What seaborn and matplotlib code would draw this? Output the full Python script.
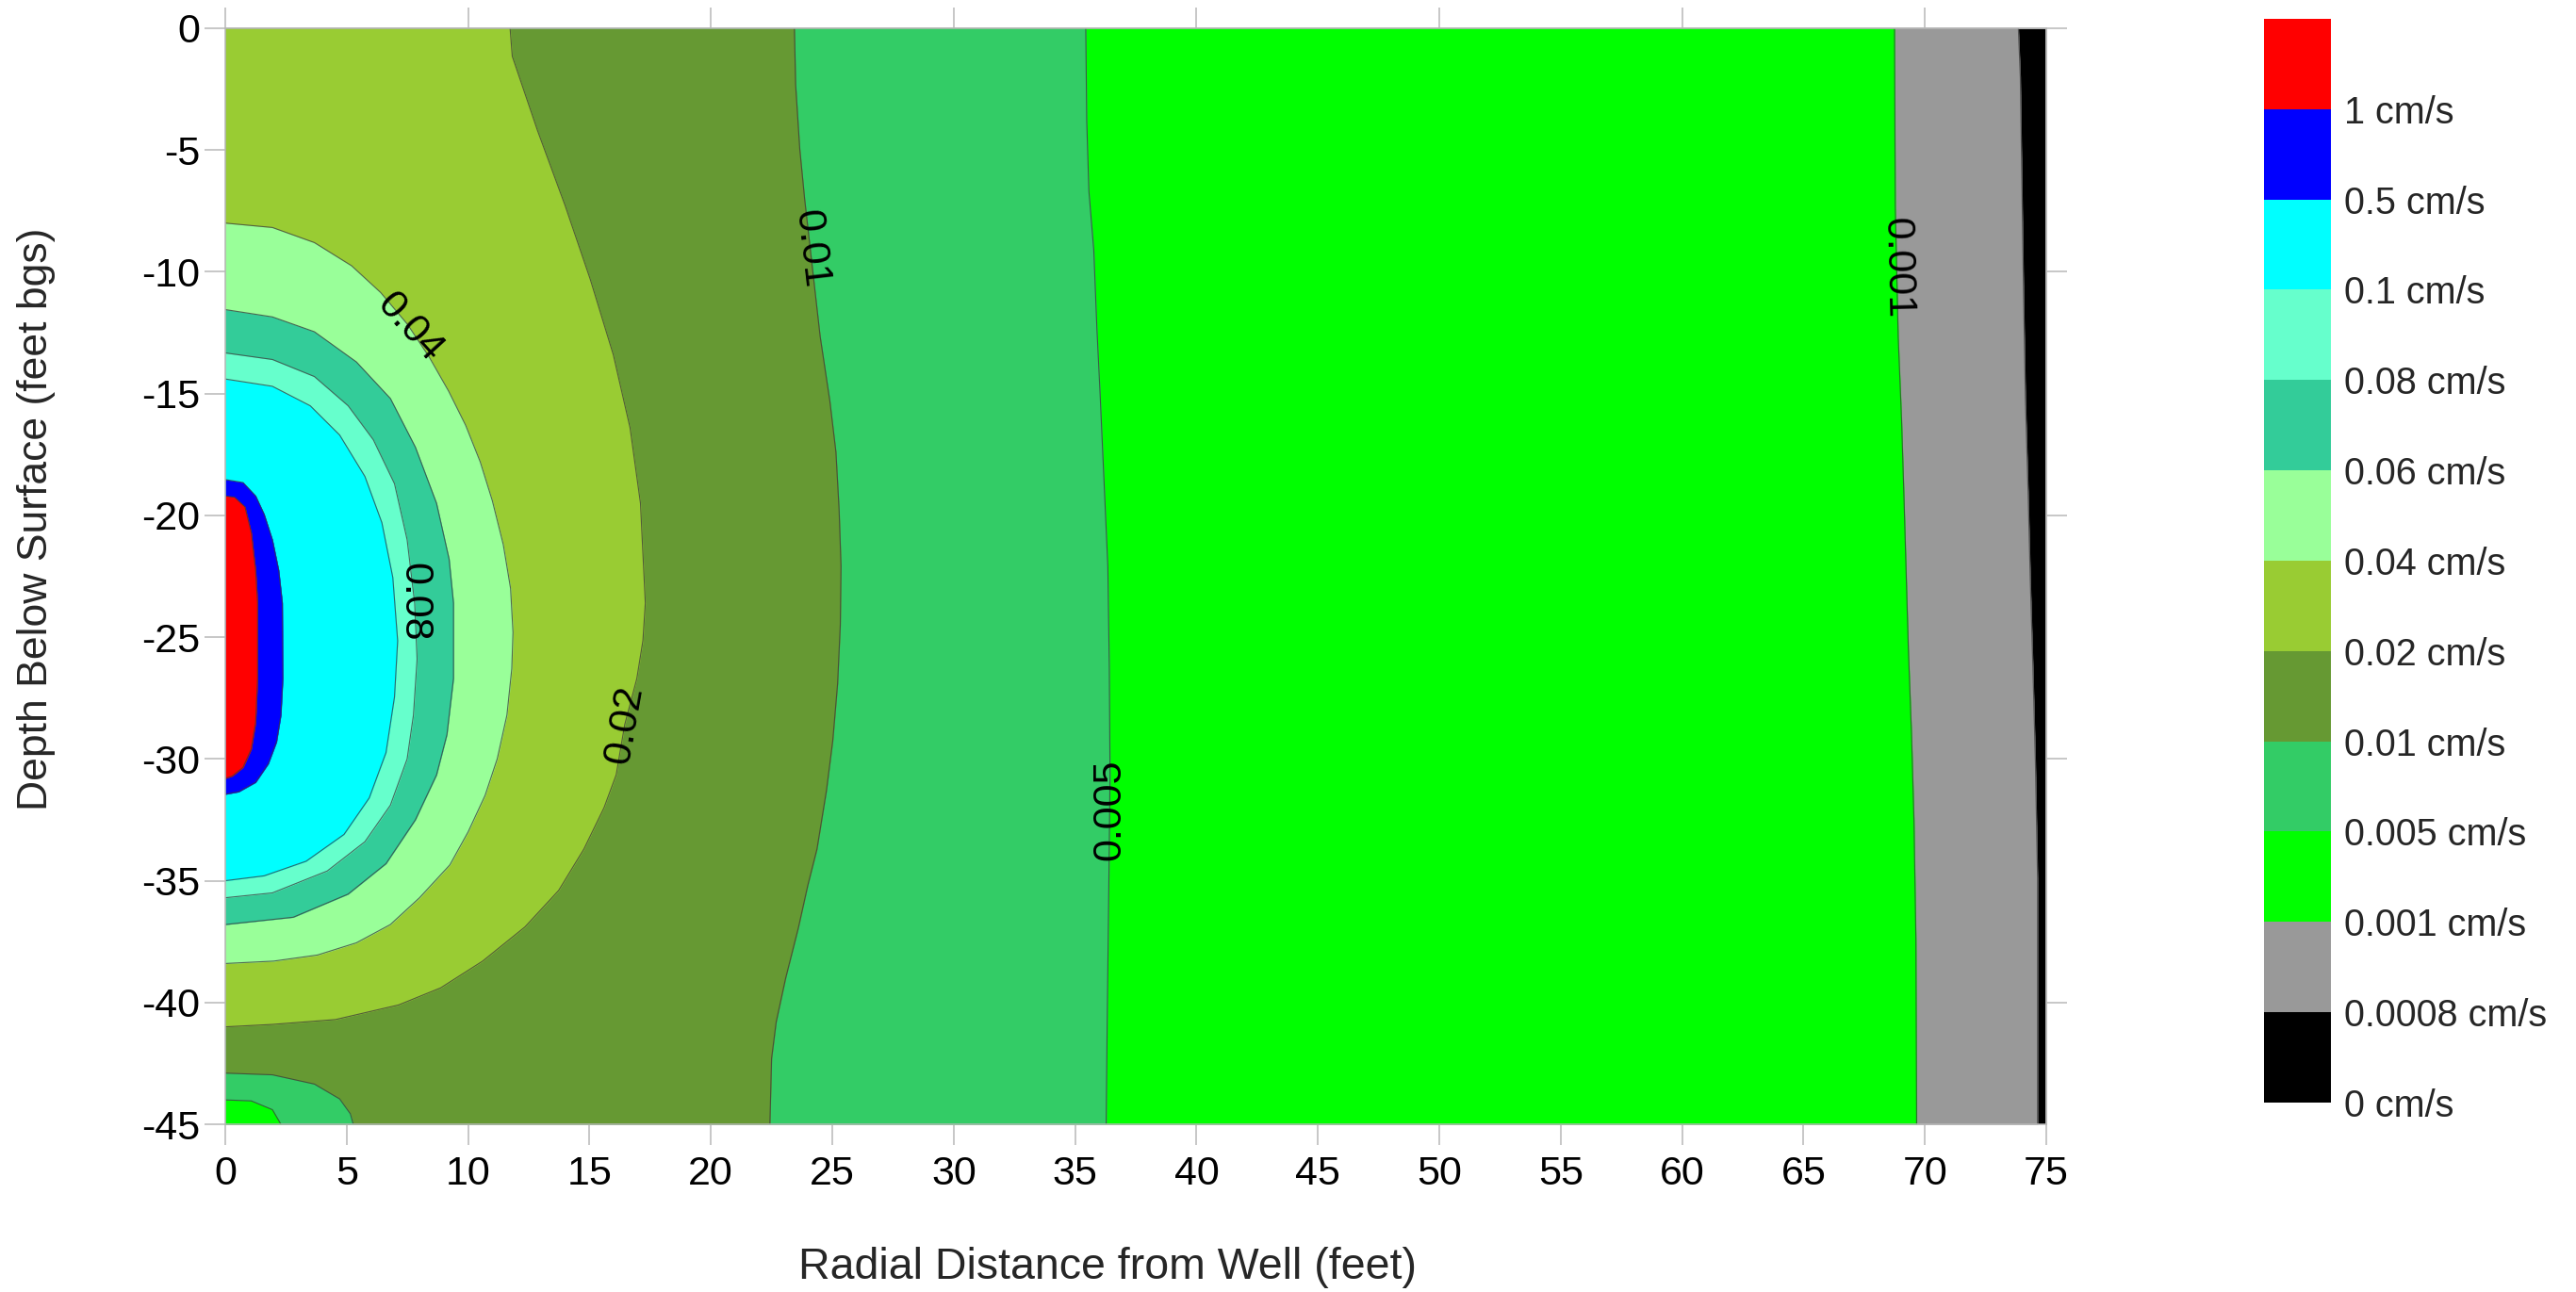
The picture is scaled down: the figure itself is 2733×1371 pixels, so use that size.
import numpy as np
import pandas as pd
import matplotlib
matplotlib.use("Agg")
import matplotlib.pyplot as plt
import matplotlib as mpl
from matplotlib.colors import ListedColormap, BoundaryNorm
import seaborn as sns

# ---------------- data ----------------
# colour bands (lowest to highest) and their lower-bound labels
band_colors = ['#000000', '#999999', '#00FF00', '#33CC66', '#669933', '#99CC33',
               '#99FF99', '#33CC99', '#66FFCC', '#00FFFF', '#0000FF', '#FF0000']
level_labels = ['0 cm/s', '0.0008 cm/s', '0.001 cm/s', '0.005 cm/s', '0.01 cm/s',
                '0.02 cm/s', '0.04 cm/s', '0.06 cm/s', '0.08 cm/s', '0.1 cm/s',
                '0.5 cm/s', '1 cm/s']

# contour boundaries: depth (ft) and radial distance (ft) of each level
depth_0008 = [0, -2.0, -10.7, -15.2, -19.0, -22.6, -26.3, -30.1, -34.9, -45]
dist_0008 = [73.85, 73.93, 74.06, 74.14, 74.25, 74.34, 74.45, 74.55, 74.64, 74.64]

depth_001 = [0, -7.3, -12.65, -16.1, -19.3, -22.4, -25.5, -29.0, -32.5, -37.4, -45]
dist_001 = [68.75, 68.78, 68.9, 69.04, 69.14, 69.23, 69.32, 69.45, 69.55, 69.63, 69.66]

depth_005 = [0, -3.8, -6.7, -9.1, -12.35, -15.0, -19.2, -22.1, -26.3, -30.7, -35.2, -41.1, -45]
dist_005 = [35.44, 35.48, 35.57, 35.77, 35.9, 36.03, 36.22, 36.35, 36.41, 36.44, 36.39, 36.32, 36.28]

depth_01 = [0, -2.3, -4.95, -7.0, -12.65, -15.3, -17.4, -19.75, -22.1, -24.5, -26.9,
            -29.25, -31.3, -33.7, -35.2, -36.95, -39.0, -40.8, -42.3, -45]
dist_01 = [23.44, 23.49, 23.66, 23.86, 24.5, 24.9, 25.15, 25.28, 25.36, 25.33, 25.22,
           25.02, 24.76, 24.37, 23.99, 23.6, 23.08, 22.69, 22.5, 22.43]

depth_02 = [0, -1.15, -4.2, -7.26, -10.3, -13.4, -16.4, -19.5, -23.6, -25.15, -26.7,
            -28.6, -30.65, -32.0, -33.7, -35.4, -36.9, -38.3, -39.4, -40.1, -40.7, -40.9, -41.0]
dist_02 = [11.73, 11.82, 12.86, 13.99, 15.03, 15.98, 16.67, 17.1, 17.3, 17.2, 16.95,
           16.45, 16.1, 15.6, 14.77, 13.73, 12.34, 10.6, 8.87, 7.14, 4.54, 1.94, 0]

depth_04 = [-8.0, -8.18, -8.8, -9.75, -10.85, -12.15, -13.5, -14.9, -16.3, -17.8, -19.4,
            -21.2, -23.0, -24.8, -26.3, -28.2, -30.0, -31.5, -33.0, -34.35, -35.7,
            -36.8, -37.55, -38.05, -38.3, -38.4]
dist_04 = [0, 1.94, 3.67, 5.2, 6.4, 7.5, 8.4, 9.2, 9.9, 10.5, 11.0,
           11.45, 11.75, 11.85, 11.8, 11.6, 11.2, 10.7, 10.0, 9.25, 8.0,
           6.8, 5.4, 3.8, 2.0, 0]

depth_06 = [-11.55, -11.85, -12.46, -13.7, -15.2, -17.2, -19.5, -21.8, -23.6, -26.7,
            -29.0, -30.66, -32.5, -34.3, -35.55, -36.5, -36.8]
dist_06 = [0, 1.94, 3.67, 5.4, 6.8, 7.83, 8.7, 9.22, 9.4, 9.4,
           9.13, 8.7, 7.83, 6.62, 5.06, 2.8, 0]

depth_08 = [-13.33, -13.6, -14.3, -15.5, -16.9, -18.7, -21.0, -23.6, -25.9, -28.2,
            -30.0, -31.9, -33.4, -34.6, -35.5, -35.7]
dist_08 = [0, 1.94, 3.67, 5.06, 6.1, 6.97, 7.49, 7.8, 7.9, 7.75,
           7.49, 6.8, 5.75, 4.2, 1.94, 0]

depth_1 = [-14.4, -14.7, -15.5, -16.7, -18.4, -20.3, -22.55, -25.15, -27.45, -29.74,
           -31.6, -33.1, -34.2, -34.8, -35.0]
dist_1 = [0, 1.94, 3.5, 4.71, 5.75, 6.45, 6.9, 7.1, 6.97, 6.62,
          5.93, 4.89, 3.33, 1.6, 0]

depth_5 = [-18.53, -18.65, -19.2, -19.95, -21.0, -22.25, -23.6, -26.7, -28.2, -29.3,
           -30.2, -30.96, -31.35, -31.45]
dist_5 = [0, 0.73, 1.25, 1.6, 1.94, 2.2, 2.35, 2.37, 2.29, 2.11,
          1.77, 1.25, 0.55, 0]

depth_10 = [-19.2, -19.25, -19.65, -20.7, -22.25, -23.6, -26.7, -28.5, -29.6, -30.35, -30.7, -30.8]
dist_10 = [0, 0.38, 0.81, 1.07, 1.25, 1.33, 1.33, 1.25, 1.07, 0.73, 0.29, 0]

# low-velocity pocket at the bottom of the well
hole_depth_01 = [-42.9, -42.97, -43.35, -43.96, -44.57, -45]
hole_dist_01 = [0, 1.94, 3.67, 4.71, 5.15, 5.27]
hole_depth_005 = [-44.0, -44.04, -44.4, -45]
hole_dist_005 = [0, 1.07, 1.94, 2.29]

# contour labels: level text, depth of label, rotation
label_text = ['0.04', '0.01', '0.001', '0.08', '0.02', '0.005']
label_depth = [-12.28, -9.05, -9.84, -23.55, -28.6, -32.1]
label_rot = [-47.7, -83.4, -88.6, -90, 80, 90]

x_ticks = list(range(0, 80, 5))
y_ticks = list(range(0, -50, -5))

# ---------------- style ----------------
sns.set_theme(style="white")
plt.rcParams['font.family'] = ['Liberation Sans', 'DejaVu Sans']
plt.rcParams['axes.unicode_minus'] = False

fig = plt.figure(figsize=(27.33, 13.71), dpi=100)
ax = fig.add_axes([0.08745, 0.12983, 0.70691, 0.84829])
ax.set_facecolor(band_colors[0])

contours = [
    ('0.0008', depth_0008, dist_0008),
    ('0.001', depth_001, dist_001),
    ('0.005', depth_005, dist_005),
    ('0.01', depth_01, dist_01),
    ('0.02', depth_02, dist_02),
    ('0.04', depth_04, dist_04),
    ('0.06', depth_06, dist_06),
    ('0.08', depth_08, dist_08),
    ('0.1', depth_1, dist_1),
    ('0.5', depth_5, dist_5),
    ('1', depth_10, dist_10),
]
lookup = {}
for i, (name, ys, xs) in enumerate(contours):
    ax.fill_betweenx(ys, 0, xs, color=band_colors[i + 1], lw=0.3,
                     edgecolor=band_colors[i + 1], zorder=1)
    lookup[name] = (ys, xs)
ax.fill_betweenx(hole_depth_01, 0, hole_dist_01, color=band_colors[3], lw=0.3,
                 edgecolor=band_colors[3], zorder=1)
ax.fill_betweenx(hole_depth_005, 0, hole_dist_005, color=band_colors[2], lw=0.3,
                 edgecolor=band_colors[2], zorder=1)

# contour lines via seaborn
frames = [pd.DataFrame({'dist': xs, 'depth': ys, 'contour': name})
          for name, ys, xs in contours]
frames.append(pd.DataFrame({'dist': hole_dist_01, 'depth': hole_depth_01, 'contour': 'h01'}))
frames.append(pd.DataFrame({'dist': hole_dist_005, 'depth': hole_depth_005, 'contour': 'h005'}))
line_df = pd.concat(frames, ignore_index=True)
sns.lineplot(data=line_df, x='dist', y='depth', units='contour', estimator=None,
             sort=False, color='#3a3a3a', lw=0.8, alpha=0.75, ax=ax, legend=False, zorder=2)

# contour labels positioned on the contour lines
for txt, yd, rot in zip(label_text, label_depth, label_rot):
    ys, xs = lookup[txt]
    xv = np.interp(yd, np.array(ys)[::-1], np.array(xs)[::-1])
    ax.text(xv, yd, txt, rotation=rot, rotation_mode='anchor', ha='center',
            va='center', fontsize=31, color='black', zorder=5)

ax.set_xlim(0, 75)
ax.set_ylim(-45, 0)
ax.set_xticks(x_ticks)
ax.set_yticks(y_ticks)
ax.set_xticklabels([str(v) for v in x_ticks])
ax.set_yticklabels([str(v) for v in y_ticks])
tick_col = '#b8b8b8'
ax.tick_params(axis='both', direction='out', length=16, width=1.1, color=tick_col,
               labelsize=31, labelcolor='black')
ax.tick_params(axis='x', pad=8, bottom=True)
ax.tick_params(axis='y', pad=3.5, left=True)
for sp in ax.spines.values():
    sp.set_color(tick_col)
    sp.set_linewidth(1.1)
    sp.set_visible(True)

top = ax.secondary_xaxis('top')
top.set_xticks(list(range(0, 80, 10)))
top.tick_params(direction='out', length=16, width=1.1, color=tick_col, labeltop=False)
top.spines['top'].set_color(tick_col)
right = ax.secondary_yaxis('right')
right.set_yticks(list(range(0, -50, -10)))
right.tick_params(direction='out', length=16, width=1.1, color=tick_col, labelright=False)
right.spines['right'].set_color(tick_col)

ax.set_xlabel('Radial Distance from Well (feet)', fontsize=33.5, va='baseline')
ax.xaxis.set_label_coords(0.4845, -0.141)
ax.set_ylabel('Depth Below Surface (feet bgs)', fontsize=32, va='baseline')
ax.yaxis.set_label_coords(-0.0978, 0.552)

# colour legend bar
cax = fig.add_axes([0.87889, 0.14661, 0.02598, 0.83881])
cmap = ListedColormap(band_colors)
bounds = np.arange(len(band_colors) + 1)
norm = BoundaryNorm(bounds, len(band_colors))
cb = mpl.colorbar.ColorbarBase(cax, cmap=cmap, norm=norm, boundaries=bounds,
                               ticks=np.arange(len(level_labels)), spacing='uniform')
cb.set_ticklabels(level_labels)
cb.outline.set_visible(False)
cax.minorticks_off()
cax.tick_params(which='both', length=0, labelsize=28.5, pad=10)

fig.savefig('out.png', dpi=100)
